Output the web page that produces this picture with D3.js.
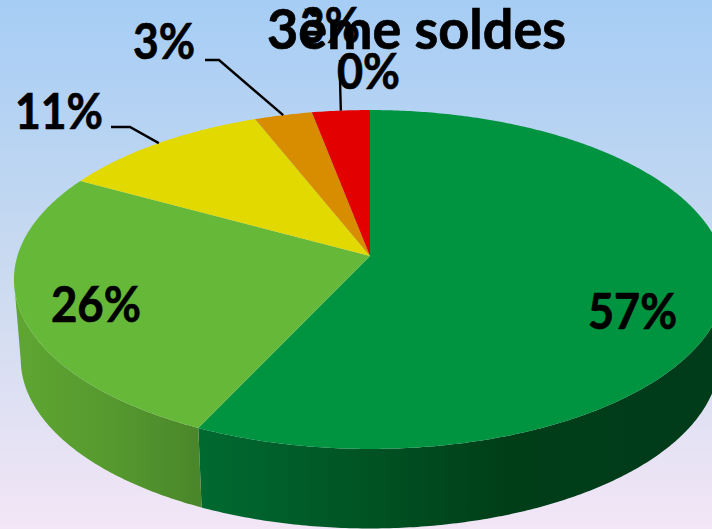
<!DOCTYPE html>
<html>
<head>
<meta charset="utf-8">
<script src="https://cdn.jsdelivr.net/npm/d3@7"></script>
<style>
  html, body { margin: 0; padding: 0; background: #fff; }
  svg { display: block; }
  text { font-family: Lato, "Noto Sans", sans-serif; font-weight: 700; fill: #000; stroke: #000; stroke-width: 0.7; }
</style>
</head>
<body>
<svg id="chart" width="712" height="529"></svg>
<script>
const title = "3ème soldes";
const categories = ["a", "b", "c", "d", "e", "f"];
const values = [57, 26, 11, 3, 3, 0];
const labels = ["57%", "26%", "11%", "3%", "3%", "0%"];
const colors = ["#009340", "#66b938", "#e1d900", "#d88c00", "#e20000", "#e20000"];

const width = 712, height = 529;

// tilted disc: unit circle -> screen, with a bit of perspective
const cx = 370, cy = 256, A = 352.6, B = 166.2, k = 0.1387;
const depth = 79.5, shrink = 0.981;

function project(angle, r) {
  const u = r * Math.sin(angle), v = -r * Math.cos(angle);
  const w = 1 - k * v;
  return [cx + (A * u) / w, cy + (B * v) / w];
}
function projectBottom(angle) {
  const p = project(angle, 1);
  return [cx + (p[0] - cx) * shrink, p[1] + depth];
}

const svg = d3.select("#chart");
const defs = svg.append("defs");

const bg = defs.append("linearGradient").attr("id", "bg")
  .attr("x1", 0).attr("y1", 0).attr("x2", 0).attr("y2", 1);
bg.append("stop").attr("offset", "0%").attr("stop-color", "#a6cdf5");
bg.append("stop").attr("offset", "50%").attr("stop-color", "#c9daf0");
bg.append("stop").attr("offset", "100%").attr("stop-color", "#f3e6f6");

// side wall shading, across the whole width of the pie
const side0 = defs.append("linearGradient").attr("id", "side0")
  .attr("gradientUnits", "userSpaceOnUse")
  .attr("x1", 198).attr("y1", 0).attr("x2", 712).attr("y2", 0);
side0.append("stop").attr("offset", "0%").attr("stop-color", "#006a30");
side0.append("stop").attr("offset", "30%").attr("stop-color", "#005525");
side0.append("stop").attr("offset", "60%").attr("stop-color", "#003e18");
side0.append("stop").attr("offset", "100%").attr("stop-color", "#003b1a");

const side1 = defs.append("linearGradient").attr("id", "side1")
  .attr("gradientUnits", "userSpaceOnUse")
  .attr("x1", 14).attr("y1", 0).attr("x2", 200).attr("y2", 0);
side1.append("stop").attr("offset", "0%").attr("stop-color", "#5fa632");
side1.append("stop").attr("offset", "50%").attr("stop-color", "#569a2f");
side1.append("stop").attr("offset", "100%").attr("stop-color", "#4a862a");

svg.append("rect").attr("width", width).attr("height", height).attr("fill", "url(#bg)");

const pie = d3.pie().sort(null).value((d) => d)(values);
const line = d3.line();

function arcAngles(d) {
  const n = Math.max(2, Math.ceil((d.endAngle - d.startAngle) / 0.01));
  return d3.range(n + 1).map((i) => d.startAngle + ((d.endAngle - d.startAngle) * i) / n);
}

// walls first, only the part between the two tangent points of the disc
const wallFrom = (98 * Math.PI) / 180, wallTo = (262 * Math.PI) / 180;
svg.append("g").selectAll("path")
  .data(pie.slice(0, 2))
  .join("path")
  .attr("fill", (d, i) => "url(#side" + i + ")")
  .attr("d", (d) => {
    const angles = arcAngles(d).filter((a) => a >= wallFrom && a <= wallTo);
    const top = angles.map((a) => project(a, 1));
    const bottom = angles.map(projectBottom).reverse();
    return line(top.concat(bottom)) + "Z";
  });

// top face
svg.append("g").selectAll("path")
  .data(pie.filter((d) => d.value > 0))
  .join("path")
  .attr("fill", (d) => colors[d.index])
  .attr("d", (d) => line([[cx, cy]].concat(arcAngles(d).map((a) => project(a, 1)))) + "Z");

// leader lines run from the rim at mid angle up to the label
const leaders = [
  { slice: 2, elbow: [130, 127], end: [111, 127] },
  { slice: 3, elbow: [219, 60], end: [205, 60] },
  { slice: 4, elbow: [340, 80], end: [340, 60] },
];
svg.append("g").selectAll("path")
  .data(leaders)
  .join("path")
  .attr("fill", "none")
  .attr("stroke", "#000")
  .attr("stroke-width", 2.4)
  .attr("d", (d) => {
    const s = pie[d.slice];
    return line([project((s.startAngle + s.endAngle) / 2, 1.0), d.elbow, d.end]);
  });

svg.append("text")
  .attr("x", 267).attr("y", 49)
  .attr("font-size", 55)
  .attr("textLength", 299)
  .attr("lengthAdjust", "spacingAndGlyphs")
  .text(title);

const labelBoxes = [
  { x: 588, y: 329, w: 89 },
  { x: 51, y: 322, w: 90 },
  { x: 15, y: 129, w: 88 },
  { x: 133, y: 59, w: 62 },
  { x: 300, y: 43, w: 60 },
  { x: 337, y: 89, w: 63 },
];
svg.append("g").selectAll("text")
  .data(labels)
  .join("text")
  .attr("x", (d, i) => labelBoxes[i].x)
  .attr("y", (d, i) => labelBoxes[i].y)
  .attr("font-size", 49)
  .attr("textLength", (d, i) => labelBoxes[i].w)
  .attr("lengthAdjust", "spacingAndGlyphs")
  .text((d) => d);
</script>
</body>
</html>
